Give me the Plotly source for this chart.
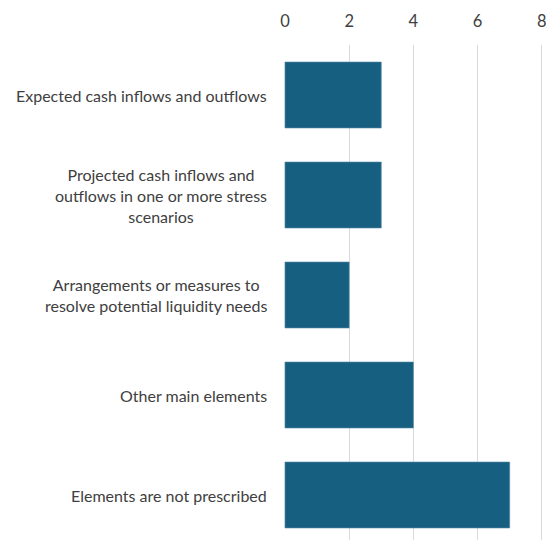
import plotly.graph_objects as go

categories = [
    "Expected cash inflows and outflows",
    "Projected cash inflows and<br>outflows in one or more stress<br>scenarios",
    "Arrangements or measures to<br>resolve potential liquidity needs",
    "Other main elements",
    "Elements are not prescribed",
]
values = [3, 3, 2, 4, 7]
tick_vals = [0, 2, 4, 6, 8]

bar_color = "#175F80"
text_color = "#404040"
font_family = "Lato, 'Noto Sans', sans-serif"

fig = go.Figure(
    go.Bar(
        x=values,
        y=list(range(len(categories))),
        orientation="h",
        marker=dict(color=bar_color, line=dict(color="#5B8FA8", width=0.6)),
        width=0.66,
        hoverinfo="x",
    )
)

# Category labels as annotations so multi-line text stays centred
for i, cat in enumerate(categories):
    fig.add_annotation(
        x=0, xref="paper", y=i, yref="y",
        text=cat, showarrow=False,
        xanchor="right", yanchor="middle", align="center",
        xshift=-15,
        font=dict(family=font_family, size=16, color=text_color),
    )

fig.update_layout(
    width=546, height=540,
    margin=dict(l=284, r=0, t=45, b=0),
    paper_bgcolor="white", plot_bgcolor="white",
    showlegend=False,
    bargap=0.34,
    xaxis=dict(
        side="top", range=[-0.03, 8.13], tickvals=tick_vals,
        showgrid=True, gridcolor="#D9D9D9", gridwidth=1.3,
        zeroline=False, showline=False, ticks="",
        ticklabelstandoff=14, ticklabeloverflow="allow",
        tickfont=dict(family=font_family, size=16.5, color=text_color),
    ),
    yaxis=dict(
        range=[4.45, -0.5], showticklabels=False, showgrid=False,
        zeroline=False, showline=False, ticks="",
    ),
)

fig.write_html("out.html")
